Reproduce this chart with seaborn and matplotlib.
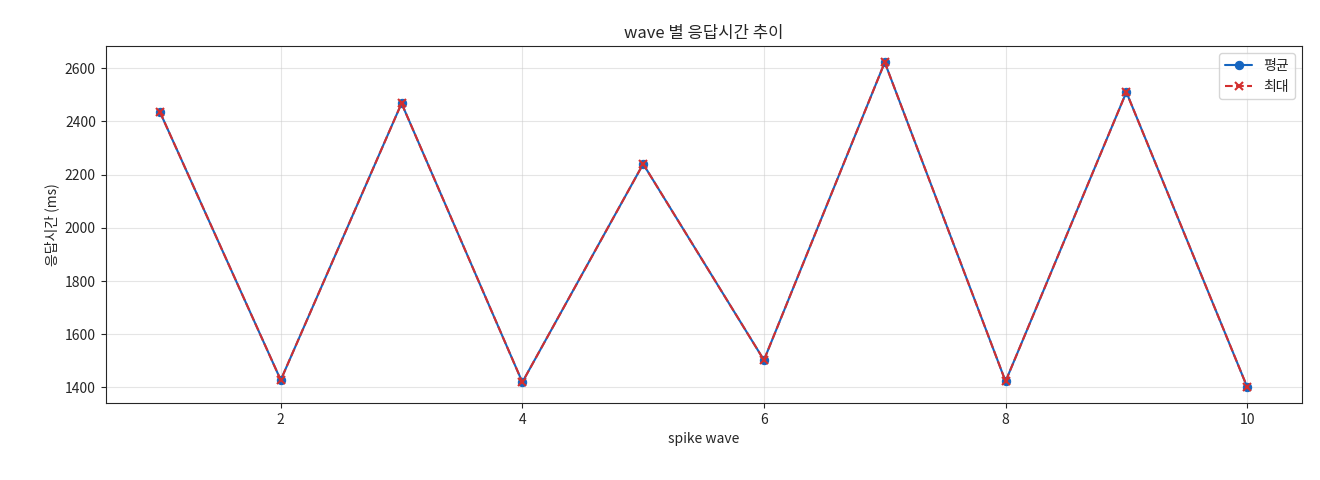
import matplotlib
matplotlib.use("Agg")
import matplotlib.pyplot as plt
import seaborn as sns
import pandas as pd

waves = [1, 2, 3, 4, 5, 6, 7, 8, 9, 10]
avg_ms = [2435, 1428, 2468, 1420, 2240, 1503, 2622, 1423, 2510, 1402]
max_ms = [2435, 1428, 2468, 1420, 2240, 1503, 2622, 1423, 2510, 1402]

sns.set_style("ticks")
plt.rcParams['font.family'] = ['Noto Sans CJK KR', 'DejaVu Sans']
plt.rcParams['axes.unicode_minus'] = False

df = pd.DataFrame({"wave": waves, "avg": avg_ms, "max": max_ms})
fig, ax = plt.subplots(figsize=(13.2, 4.8), dpi=100)
fig.subplots_adjust(left=0.08, right=0.986, top=0.904, bottom=0.16)
sns.lineplot(data=df, x="wave", y="avg", ax=ax, color="#1565c0", marker="o", markersize=6,
             markeredgecolor="#1565c0", linewidth=1.5)
sns.lineplot(data=df, x="wave", y="max", ax=ax, color="#d32f2f", marker="x", markersize=6,
             markeredgecolor="#d32f2f", markeredgewidth=1.5, linewidth=1.5)
ax.lines[0].set_label("평균")
ax.lines[1].set_linestyle((0, (3.7, 1.6)))
ax.lines[1].set_label("최대")
ax.grid(True, alpha=0.5, color="#cccccc")
ax.set_title("wave 별 응답시간 추이", fontsize=12)
ax.set_xlabel("spike wave", fontsize=10)
ax.set_ylabel("응답시간 (ms)", fontsize=10)
ax.legend(handles=ax.lines[:2], loc="upper right", fontsize=10)
ax.set_xticks([2, 4, 6, 8, 10])
fig.savefig("out.png")
